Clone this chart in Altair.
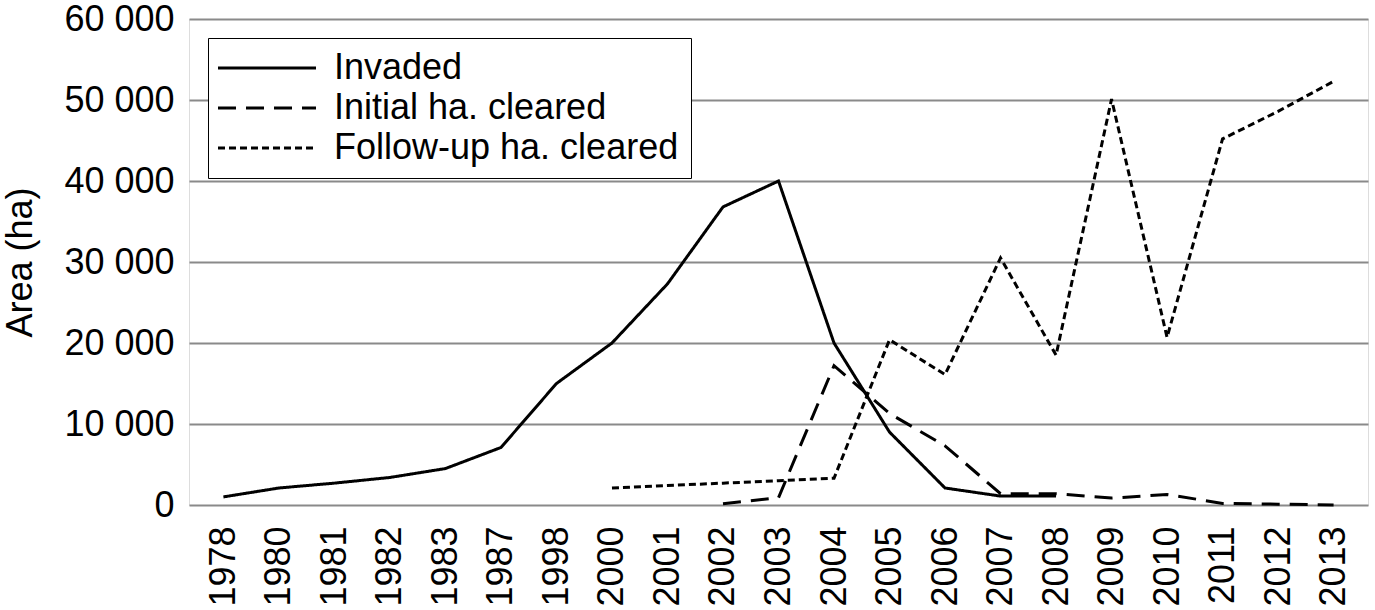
import altair as alt
import pandas as pd

years = ["1978", "1980", "1981", "1982", "1983", "1987", "1998", "2000", "2001",
         "2002", "2003", "2004", "2005", "2006", "2007", "2008", "2009", "2010",
         "2011", "2012", "2013"]

series_names = ["Invaded", "Initial ha. cleared", "Follow-up ha. cleared"]

# Invaded: 1978 .. 2008
invaded_years = years[:16]
invaded = [1000, 2100, 2700, 3400, 4500, 7100, 15000, 20000, 27300, 36800,
           40000, 20000, 9000, 2100, 1100, 1100]

# Initial ha. cleared: 2002 .. 2013
initial_years = years[9:]
initial = [150, 900, 17200, 11300, 7300, 1400, 1400, 850, 1300, 200, 100, 0]

# Follow-up ha. cleared: 2000 .. 2013
follow_years = years[7:]
follow = [2100, 2400, 2700, 3000, 3300, 20400, 16100, 30500, 18500, 50100,
          20700, 45200, 48600, 52300]

y_ticks = [0, 10000, 20000, 30000, 40000, 50000, 60000]

rows = []
for name, ys, vals in [(series_names[0], invaded_years, invaded),
                       (series_names[1], initial_years, initial),
                       (series_names[2], follow_years, follow)]:
    for yr, v in zip(ys, vals):
        rows.append({"year": yr, "area": v, "series": name})
df = pd.DataFrame(rows)

FONT = "Liberation Sans"
FS = 36

chart = alt.Chart(df).mark_line(color="black", strokeWidth=3, strokeJoin="miter").encode(
    x=alt.X("year:N", sort=years,
            scale=alt.Scale(type="point", padding=0.62),
            axis=alt.Axis(title=None, labelAngle=270, labelFontSize=FS, labelPadding=21,
                          ticks=False, domain=False, grid=False, labelColor="black",
                          labelFont=FONT)),
    y=alt.Y("area:Q",
            scale=alt.Scale(domain=[0, 60000], nice=False),
            axis=alt.Axis(values=y_ticks, title="Area (ha)",
                          labelExpr="replace(format(datum.value, ','), ',', ' ')",
                          ticks=False, domain=False, grid=True, gridColor="#8a8a8a",
                          gridWidth=2, labelFontSize=FS, titleFontSize=FS,
                          titleFontWeight="normal", labelPadding=15, titlePadding=24,
                          labelColor="black", titleColor="black", labelFont=FONT,
                          titleFont=FONT)),
    strokeDash=alt.StrokeDash("series:N",
                              scale=alt.Scale(domain=series_names,
                                              range=[[1, 0], [18, 10], [7, 4]]),
                              legend=alt.Legend(title=None, orient="none", legendX=19, legendY=19,
                                                symbolType="M-2,0H7.8", symbolSize=400,
                                                symbolStrokeWidth=3, symbolStrokeColor="black",
                                                symbolFillColor="transparent",
                                                labelFontSize=FS, labelFont=FONT, labelLimit=800,
                                                labelColor="black", strokeColor="black",
                                                fillColor="white", padding=12, rowPadding=4,
                                                labelOffset=78, cornerRadius=0)),
).properties(
    width=1179, height=486,
    autosize=alt.AutoSizeParams(type="none"),
    padding={"left": 189, "top": 19, "right": 7, "bottom": 105},
).configure_view(
    stroke="black", strokeWidth=2
).configure_legend(
    strokeWidth=2
).configure(font=FONT)

chart.save("out.html", embed_options={"renderer": "svg", "actions": False})
